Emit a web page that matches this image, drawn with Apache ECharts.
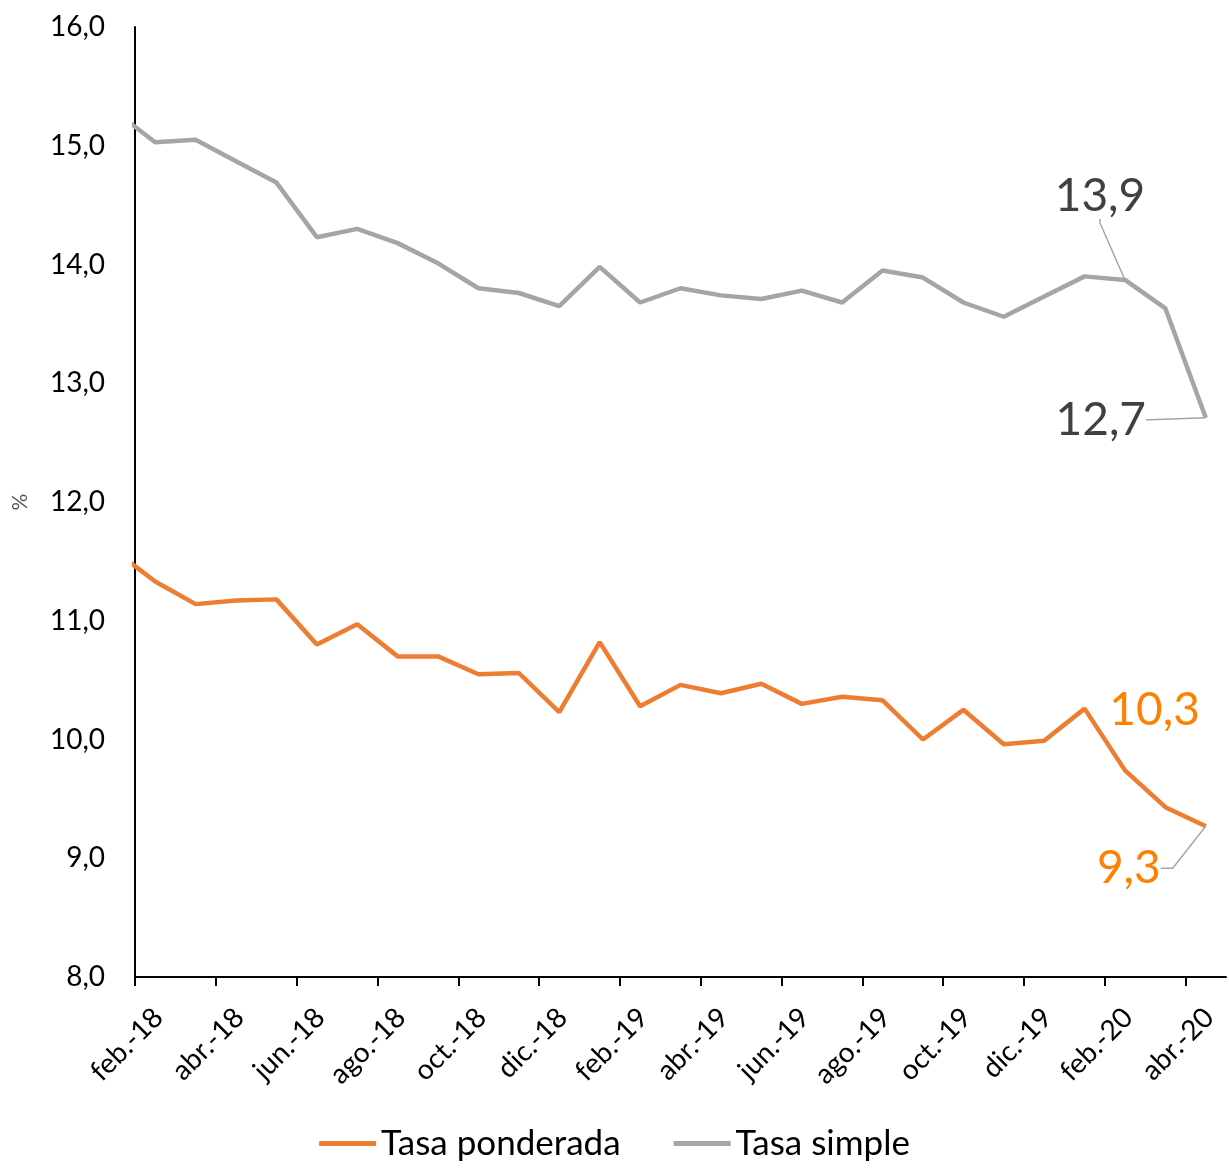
<!DOCTYPE html>
<html>
<head>
<meta charset="utf-8">
<script src="https://cdn.jsdelivr.net/npm/echarts@6/dist/echarts.min.js"></script>
<style>
  html, body { margin: 0; padding: 0; background: #fff; }
  #chart { width: 1229px; height: 1168px; }
</style>
</head>
<body>
<div id="chart"></div>
<script>
// meses de los datos (ene.-18 queda fuera del eje, solo se ve recortado en el borde)
const months = [
  'ene.-18', 'feb.-18', 'mar.-18', 'abr.-18', 'may.-18', 'jun.-18', 'jul.-18', 'ago.-18',
  'sep.-18', 'oct.-18', 'nov.-18', 'dic.-18', 'ene.-19', 'feb.-19', 'mar.-19', 'abr.-19',
  'may.-19', 'jun.-19', 'jul.-19', 'ago.-19', 'sep.-19', 'oct.-19', 'nov.-19', 'dic.-19',
  'ene.-20', 'feb.-20', 'mar.-20', 'abr.-20'
]

const tasaPonderada = [
  11.59, 11.33, 11.14, 11.17, 11.18, 10.80, 10.97, 10.70,
  10.70, 10.55, 10.56, 10.23, 10.82, 10.28, 10.46, 10.39,
  10.47, 10.30, 10.36, 10.33, 10.00, 10.25, 9.96, 9.99,
  10.26, 9.74, 9.43, 9.27
]

const tasaSimple = [
  15.29, 15.03, 15.05, 14.87, 14.69, 14.23, 14.30, 14.18,
  14.01, 13.80, 13.76, 13.65, 13.98, 13.68, 13.80, 13.74,
  13.71, 13.78, 13.68, 13.95, 13.89, 13.68, 13.56, 13.73,
  13.90, 13.87, 13.63, 12.71
]

// etiquetas del eje X (cada dos meses, desde feb.-18)
const xTickLabels = [
  'feb.-18', 'abr.-18', 'jun.-18', 'ago.-18', 'oct.-18', 'dic.-18', 'feb.-19',
  'abr.-19', 'jun.-19', 'ago.-19', 'oct.-19', 'dic.-19', 'feb.-20', 'abr.-20'
]

// puntos con etiqueta de valor
const labelledPonderada = ['ene.-20', 'abr.-20']
const labelledSimple = ['feb.-20', 'abr.-20']

const FONT = 'Lato'
const fmt = (v) => v.toFixed(1).replace('.', ',')

// desplazamiento de cada etiqueta respecto a su punto [dx, dy]
const labelOffsets = {
  0: { 24: [70, 2], 27: [-77, 42] },
  1: { 25: [-25, -84], 27: [-105, 2] },
}

function buildData(values, labelled, withLine) {
  return values.map((v, i) => {
    const item = { value: [i - 0.5, v] }
    if (labelled.includes(months[i])) {
      item.label = { show: true }
      item.labelLine = { show: withLine(months[i]) }
    }
    return item
  })
}

const chart = echarts.init(document.getElementById('chart'))

const tickValues = xTickLabels.map((_, i) => i * 2)
const labelValues = xTickLabels.map((_, i) => i * 2 + 0.58)

const option = {
  animation: false,
  grid: { left: 135, right: 3, top: 27, bottom: 191, containLabel: false },
  legend: {
    data: ['Tasa ponderada', 'Tasa simple'],
    left: 'center',
    top: 1121,
    icon: 'rect',
    itemWidth: 57,
    itemHeight: 5,
    itemGap: 53,
    textStyle: { fontFamily: FONT, fontSize: 35, color: '#000' },
  },
  xAxis: {
    type: 'value',
    min: 0,
    max: 27,
    splitLine: { show: false },
    axisLine: { lineStyle: { color: '#000', width: 2 } },
    axisTick: {
      show: true,
      customValues: tickValues,
      length: 9,
      lineStyle: { color: '#000', width: 2 },
    },
    axisLabel: {
      customValues: labelValues,
      rotate: 45,
      margin: 36,
      fontFamily: FONT,
      fontSize: 28,
      color: '#000',
      formatter: (v) => xTickLabels[Math.round((v - 0.58) / 2)] || '',
    },
  },
  yAxis: {
    type: 'value',
    min: 8,
    max: 16,
    interval: 1,
    name: '%',
    nameLocation: 'middle',
    nameGap: 104,
    nameRotate: 90,
    nameTextStyle: { fontFamily: FONT, fontSize: 21, color: '#595959' },
    splitLine: { show: false },
    axisLine: { show: true, lineStyle: { color: '#000', width: 2 } },
    axisTick: { show: false },
    axisLabel: {
      margin: 30,
      fontFamily: FONT,
      fontSize: 28,
      color: '#000',
      formatter: fmt,
    },
  },
  labelLayout: (params) => {
    const off = (labelOffsets[params.seriesIndex] || {})[params.dataIndex]
    return off ? { dx: off[0], dy: off[1] } : {}
  },
  series: [
    {
      name: 'Tasa ponderada',
      type: 'line',
      clip: true,
      symbol: 'circle',
      symbolSize: 1,
      itemStyle: { color: '#ed7d31' },
      lineStyle: { color: '#ed7d31', width: 4.5 },
      label: {
        show: false,
        position: 'inside',
        fontFamily: FONT,
        fontSize: 46,
        color: '#ff8000',
        formatter: (p) => fmt(p.value[1]),
      },
      labelLine: { length2: 12, lineStyle: { color: '#a6a6a6', width: 1.5 } },
      data: buildData(tasaPonderada, labelledPonderada, (m) => m === 'abr.-20'),
    },
    {
      name: 'Tasa simple',
      type: 'line',
      clip: true,
      symbol: 'circle',
      symbolSize: 1,
      itemStyle: { color: '#a5a5a5' },
      lineStyle: { color: '#a5a5a5', width: 4.5 },
      label: {
        show: false,
        position: 'inside',
        fontFamily: FONT,
        fontSize: 46,
        color: '#404040',
        formatter: (p) => fmt(p.value[1]),
      },
      labelLine: { length2: 4, lineStyle: { color: '#a6a6a6', width: 1.5 } },
      data: buildData(tasaSimple, labelledSimple, () => true),
    },
  ],
}

chart.setOption(option)
</script>
</body>
</html>
